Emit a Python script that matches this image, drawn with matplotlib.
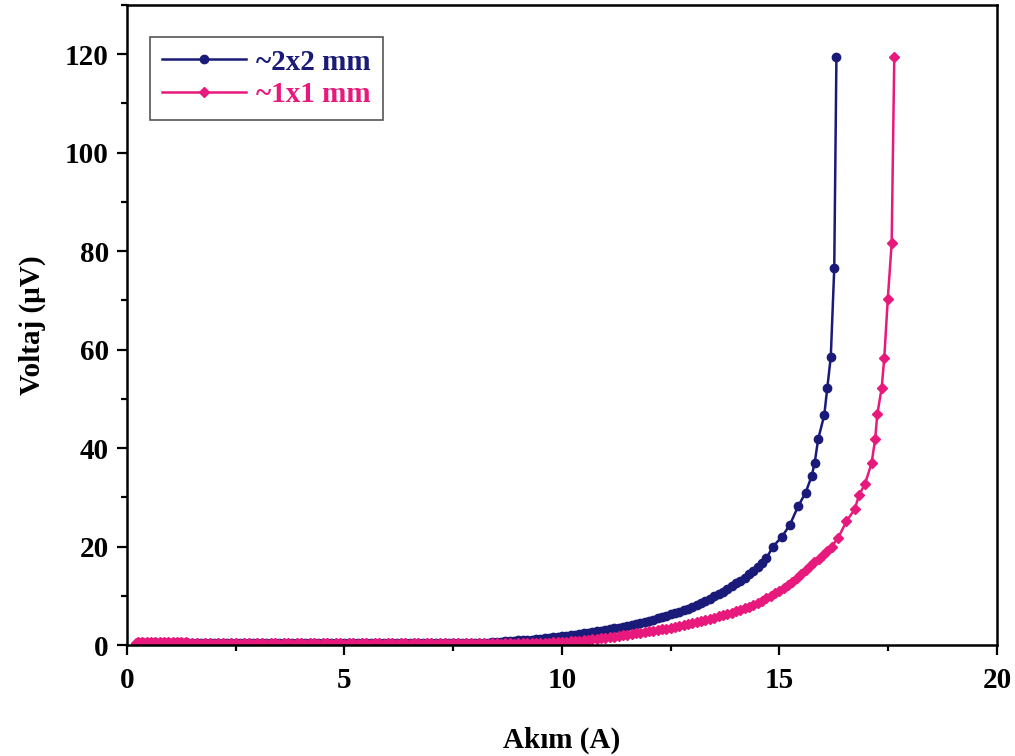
import matplotlib
matplotlib.use("Agg")
import matplotlib.pyplot as plt
from matplotlib.ticker import MultipleLocator

plt.rcParams['font.family'] = ['Liberation Serif', 'DejaVu Serif']
plt.rcParams['font.weight'] = 'bold'

# ---- data: ~2x2 mm sample ----
blue_x = [1.5, 1.6, 1.7, 1.8, 1.9, 2.0, 2.1, 2.2, 2.3, 2.4, 2.5, 2.6, 2.7, 2.8, 2.9,
          3.0, 3.1, 3.2, 3.3, 3.4, 3.5, 3.6, 3.7, 3.8, 3.9, 4.0, 4.1, 4.2, 4.3, 4.4,
          4.5, 4.6, 4.7, 4.8, 4.9, 5.0, 5.1, 5.2, 5.3, 5.4, 5.5, 5.6, 5.7, 5.8, 5.9,
          6.0, 6.1, 6.2, 6.3, 6.4, 6.5, 6.6, 6.7, 6.8, 6.9, 7.0, 7.1, 7.2, 7.3, 7.4,
          7.5, 7.6, 7.7, 7.8, 7.9, 8.0, 8.1, 8.2, 8.3, 8.4, 8.5, 8.6,
          8.7, 8.8, 8.9, 9.0, 9.1, 9.2, 9.3, 9.4, 9.5, 9.6, 9.7, 9.8, 9.9,
          10.0, 10.1, 10.2, 10.3, 10.4, 10.5, 10.6, 10.7, 10.8, 10.9,
          11.0, 11.1, 11.2, 11.3, 11.4, 11.5, 11.6, 11.7, 11.8, 11.9,
          12.0, 12.1, 12.2, 12.3, 12.4, 12.5, 12.6, 12.7, 12.8, 12.9,
          13.0, 13.1, 13.2, 13.3, 13.4, 13.5, 13.6, 13.7, 13.8, 13.9,
          14.0, 14.1, 14.2, 14.3, 14.4, 14.5, 14.6, 14.7, 14.85,
          15.05, 15.24, 15.43, 15.6, 15.74, 15.81, 15.89, 16.03, 16.1, 16.18, 16.26, 16.31]
blue_y = [0.4, 0.5, 0.4, 0.5, 0.4, 0.4, 0.5, 0.4, 0.4, 0.5, 0.4, 0.4, 0.5, 0.4, 0.4,
          0.5, 0.4, 0.4, 0.5, 0.4, 0.4, 0.5, 0.4, 0.4, 0.5, 0.4, 0.4, 0.5, 0.4, 0.4,
          0.5, 0.4, 0.4, 0.5, 0.4, 0.4, 0.5, 0.4, 0.4, 0.5, 0.4, 0.4, 0.5, 0.4, 0.4,
          0.5, 0.4, 0.4, 0.5, 0.4, 0.4, 0.5, 0.4, 0.4, 0.5, 0.4, 0.4, 0.5, 0.4, 0.4,
          0.5, 0.4, 0.4, 0.5, 0.4, 0.4, 0.5, 0.5, 0.5, 0.6, 0.6, 0.7,
          0.8, 0.9, 0.9, 1.0, 1.0, 1.1, 1.1, 1.2, 1.3, 1.4, 1.5, 1.6, 1.7,
          1.8, 1.9, 2.0, 2.1, 2.2, 2.4, 2.5, 2.6, 2.8, 2.9,
          3.1, 3.2, 3.4, 3.5, 3.7, 3.9, 4.1, 4.3, 4.5, 4.7,
          4.9, 5.1, 5.4, 5.6, 5.9, 6.2, 6.5, 6.8, 7.1, 7.4,
          7.8, 8.2, 8.6, 9.0, 9.4, 9.9, 10.3, 10.8, 11.3, 11.9,
          12.5, 13.1, 13.7, 14.4, 15.1, 15.9, 16.7, 17.6, 20.0,
          21.9, 24.4, 28.2, 30.9, 34.3, 37.0, 41.8, 46.7, 52.3, 58.5, 76.5, 119.5]

# ---- data: ~1x1 mm sample ----
pink_x = [0.2, 0.25, 0.3, 0.35, 0.4, 0.45, 0.5, 0.55, 0.6, 0.65, 0.7, 0.75, 0.8, 0.85,
          0.9, 0.95, 1.0, 1.05, 1.1, 1.15, 1.2, 1.25, 1.3, 1.35, 1.4,
          1.5, 1.6, 1.7, 1.8, 1.9, 2.0, 2.1, 2.2, 2.3, 2.4, 2.5, 2.6, 2.7, 2.8, 2.9,
          3.0, 3.1, 3.2, 3.3, 3.4, 3.5, 3.6, 3.7, 3.8, 3.9, 4.0, 4.1, 4.2, 4.3, 4.4,
          4.5, 4.6, 4.7, 4.8, 4.9, 5.0, 5.1, 5.2, 5.3, 5.4, 5.5, 5.6, 5.7, 5.8, 5.9,
          6.0, 6.1, 6.2, 6.3, 6.4, 6.5, 6.6, 6.7, 6.8, 6.9, 7.0, 7.1, 7.2, 7.3, 7.4,
          7.5, 7.6, 7.7, 7.8, 7.9, 8.0, 8.1, 8.2, 8.3, 8.4, 8.5, 8.6, 8.7, 8.8, 8.9,
          9.0, 9.1, 9.2, 9.3, 9.4, 9.5, 9.6, 9.7, 9.8, 9.9,
          10.0, 10.1, 10.2, 10.3, 10.4, 10.5, 10.6, 10.7, 10.8, 10.9,
          11.0, 11.1, 11.2, 11.3, 11.4, 11.5, 11.6, 11.7, 11.8, 11.9,
          12.0, 12.1, 12.2, 12.3, 12.4, 12.5, 12.6, 12.7, 12.8, 12.9,
          13.0, 13.1, 13.2, 13.3, 13.4, 13.5, 13.6, 13.7, 13.8, 13.9,
          14.0, 14.1, 14.2, 14.3, 14.4, 14.5, 14.6, 14.7, 14.8, 14.9,
          15.0, 15.1, 15.2, 15.3, 15.4, 15.5, 15.6, 15.7, 15.8, 15.9,
          16.0, 16.1, 16.2, 16.35, 16.54, 16.73, 16.83, 16.97, 17.12, 17.2,
          17.25, 17.35, 17.41, 17.49, 17.58, 17.64]
pink_y = [0.5, 0.6, 0.5, 0.6, 0.5, 0.6, 0.5, 0.6, 0.5, 0.6, 0.5, 0.6, 0.5, 0.6,
          0.5, 0.6, 0.5, 0.6, 0.5, 0.6, 0.5, 0.6, 0.5, 0.6, 0.5,
          0.4, 0.4, 0.3, 0.4, 0.4, 0.3, 0.4, 0.4, 0.3, 0.4, 0.4, 0.3, 0.4, 0.4, 0.3,
          0.4, 0.4, 0.3, 0.4, 0.4, 0.3, 0.4, 0.4, 0.3, 0.4, 0.4, 0.3, 0.4, 0.4, 0.3,
          0.4, 0.4, 0.3, 0.4, 0.4, 0.3, 0.4, 0.4, 0.3, 0.4, 0.4, 0.3, 0.4, 0.4, 0.3,
          0.4, 0.4, 0.3, 0.4, 0.4, 0.3, 0.4, 0.4, 0.3, 0.4, 0.4, 0.3, 0.4, 0.4, 0.3,
          0.4, 0.4, 0.3, 0.4, 0.4, 0.3, 0.4, 0.4, 0.3, 0.4, 0.4, 0.3, 0.4, 0.4, 0.3,
          0.4, 0.4, 0.4, 0.4, 0.5, 0.5, 0.5, 0.5, 0.6, 0.6,
          0.7, 0.7, 0.8, 0.9, 0.9, 1.0, 1.1, 1.2, 1.3, 1.4,
          1.5, 1.6, 1.7, 1.9, 2.0, 2.1, 2.2, 2.4, 2.5, 2.6,
          2.8, 2.9, 3.0, 3.2, 3.3, 3.5, 3.7, 3.9, 4.1, 4.3,
          4.5, 4.7, 4.9, 5.1, 5.3, 5.5, 5.8, 6.0, 6.3, 6.6,
          6.9, 7.2, 7.5, 7.8, 8.2, 8.6, 9.0, 9.5, 10.0, 10.5,
          11.0, 11.6, 12.2, 12.9, 13.6, 14.4, 15.2, 16.0, 16.8, 17.5,
          18.2, 19.0, 20.0, 21.8, 25.1, 27.6, 30.4, 32.8, 37.0, 41.8,
          46.9, 52.2, 58.3, 70.2, 81.6, 119.5]

labels = ['~2x2 mm', '~1x1 mm']
colors = ['#1a1a78', '#e8197d']

fig = plt.figure(figsize=(10.15, 7.56), dpi=100)
ax = fig.add_axes([0.1251, 0.1468, 0.8571, 0.8466])

ax.plot(blue_x, blue_y, color=colors[0], lw=1.8, marker='o', ms=6,
        mfc=colors[0], mec=colors[0], label=labels[0])
ax.plot(pink_x, pink_y, color=colors[1], lw=1.8, marker='D', ms=5.5,
        mfc=colors[1], mec=colors[1], label=labels[1])

ax.set_xlim(0, 20)
ax.set_ylim(0, 130)
ax.xaxis.set_major_locator(MultipleLocator(5))
ax.xaxis.set_minor_locator(MultipleLocator(2.5))
ax.yaxis.set_major_locator(MultipleLocator(20))
ax.yaxis.set_minor_locator(MultipleLocator(10))
ax.tick_params(which='both', direction='out', top=False, right=False, width=1.6)
ax.tick_params(which='major', length=7, labelsize=21, pad=6)
ax.tick_params(axis='x', which='major', pad=9)
ax.tick_params(which='minor', length=4)
for s in ax.spines.values():
    s.set_linewidth(1.8)
for lab in ax.get_xticklabels() + ax.get_yticklabels():
    lab.set_fontweight('bold')

ax.set_xlabel('Akım (A)', fontsize=21, fontweight='bold', labelpad=23)
ax.set_ylabel('Voltaj (μV)', fontsize=21, fontweight='bold', labelpad=14)

leg = ax.legend(loc='upper left', bbox_to_anchor=(0.0264, 0.95), borderaxespad=0,
                fancybox=False, edgecolor='#555555', handlelength=2.9,
                handletextpad=0.35, borderpad=0.4, labelspacing=0.2, framealpha=1,
                prop={'weight': 'bold', 'size': 21})
leg.get_frame().set_linewidth(1.2)
for t, c in zip(leg.get_texts(), colors):
    t.set_color(c)

fig.savefig('out.png', dpi=100)
